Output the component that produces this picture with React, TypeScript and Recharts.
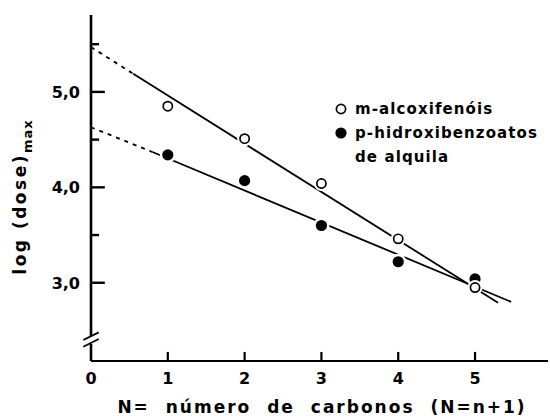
import {ComposedChart, Line, Scatter, XAxis, YAxis, ReferenceLine} from 'recharts';

import type {ReactElement} from 'react';

// N = número de carbonos
const nCarbonos = [1, 2, 3, 4, 5];
// log (dose)max
const alcoxifenois = [4.85, 4.51, 4.04, 3.46, 2.95];
const hidroxibenzoatos = [4.34, 4.07, 3.6, 3.22, 3.04];

// retas ajustadas (trecho tracejado = extrapolação até N=0)
const retaAlcoxiTracejadaN = [0, 0.55];
const retaAlcoxiTracejadaV = [5.47, 5.19];
const retaAlcoxiN = [0.55, 5.3];
const retaAlcoxiV = [5.19, 2.79];
const retaHidroxiTracejadaN = [0, 0.8];
const retaHidroxiTracejadaV = [4.63, 4.37];
const retaHidroxiN = [0.8, 5.47];
const retaHidroxiV = [4.37, 2.8];

const xTicks = [0, 1, 2, 3, 4, 5];
const yTicks = [3, 3.5, 4, 4.5, 5, 5.5];

const X_MIN = 0;
const X_MAX = 5.95;
const Y_MIN = 2.18;
const Y_MAX = 5.806;

const FONT = '"DejaVu Sans", sans-serif';

const toPoints = (ns: number[], vs: number[]) => ns.map((n, i) => ({n, v: vs[i]}));

const dadosAlcoxi = toPoints(nCarbonos, alcoxifenois);
const dadosHidroxi = toPoints(nCarbonos, hidroxibenzoatos);

function OpenDot(props: any): ReactElement {
	const {cx, cy} = props;
	return (
		<g>
			<circle cx={cx} cy={cy} r={7.5} fill={'#fff'} />
			<circle cx={cx} cy={cy} r={4.6} fill={'#fff'} stroke={'#000'} strokeWidth={1.7} />
		</g>
	);
}

function FilledDot(props: any): ReactElement {
	const {cx, cy} = props;
	return (
		<g>
			<circle cx={cx} cy={cy} r={8} fill={'#fff'} />
			<circle cx={cx} cy={cy} r={5.6} fill={'#000'} />
		</g>
	);
}

function XTick(props: any): ReactElement {
	const {x, y, payload} = props;
	return (
		<text x={x} y={y + 23} textAnchor={'middle'} fontFamily={FONT} fontWeight={'bold'} fontSize={16}>
			{payload.value}
		</text>
	);
}

function YTick(props: any): ReactElement | null {
	const {x, y, payload} = props;
	if (!Number.isInteger(payload.value)) {
		return null;
	}
	return (
		<text x={x - 11} y={y + 6} textAnchor={'end'} fontFamily={FONT} fontWeight={'bold'} fontSize={16}>
			{payload.value.toFixed(1).replace('.', ',')}
		</text>
	);
}

function YLabel(): ReactElement {
	return (
		<text x={26} y={197} transform={'rotate(-90, 26, 197)'} textAnchor={'middle'} fontFamily={FONT} fontWeight={'bold'} fontSize={17} letterSpacing={2.5}>
			{'log (dose)'}
			<tspan dy={6} fontSize={13} letterSpacing={1}>{'max'}</tspan>
		</text>
	);
}

function XLabel(): ReactElement {
	return (
		<text x={322} y={413} textAnchor={'middle'} fontFamily={FONT} fontWeight={'bold'} fontSize={17} letterSpacing={2} wordSpacing={8}>
			{'N= número de carbonos (N=n+1)'}
		</text>
	);
}

function Legenda(): ReactElement {
	const txt = {fontFamily: FONT, fontWeight: 'bold' as const, fontSize: 15, letterSpacing: 1.1};
	return (
		<svg width={215} height={70}>
			<circle cx={8} cy={13} r={4.6} fill={'#fff'} stroke={'#000'} strokeWidth={1.7} />
			<text x={22} y={18} {...txt}>{'m-alcoxifenóis'}</text>
			<circle cx={8} cy={37} r={5.6} fill={'#000'} />
			<text x={22} y={42} {...txt}>{'p-hidroxibenzoatos'}</text>
			<text x={22} y={66} {...txt}>{'de alquila'}</text>
		</svg>
	);
}

export default function App(): ReactElement {
	return (
		<div style={{position: 'absolute', left: 0, top: 0, width: 550, height: 416, background: '#fff'}}>
			<ComposedChart width={550} height={416} margin={{top: 15, right: 2, bottom: 0, left: 0}}>
				<XAxis
					type={'number'}
					dataKey={'n'}
					domain={[X_MIN, X_MAX]}
					ticks={xTicks}
					interval={0}
					allowDataOverflow
					height={55}
					tickSize={0}
					tickMargin={0}
					tickLine={false}
					tick={<XTick />}
					axisLine={{stroke: '#000', strokeWidth: 2.2}}
					label={<XLabel />}
				/>
				<YAxis
					type={'number'}
					dataKey={'v'}
					domain={[Y_MIN, Y_MAX]}
					ticks={yTicks}
					interval={0}
					allowDataOverflow
					width={91}
					tickSize={0}
					tickMargin={0}
					tickLine={false}
					tick={<YTick />}
					axisLine={false}
					label={<YLabel />}
				/>
				{/* eixo Y com quebra */}
				<ReferenceLine segment={[{x: X_MIN, y: Y_MAX}, {x: X_MIN, y: 2.44}]} stroke={'#000'} strokeWidth={2.6} ifOverflow={'visible'} />
				<ReferenceLine segment={[{x: X_MIN, y: 2.36}, {x: X_MIN, y: Y_MIN}]} stroke={'#000'} strokeWidth={2.6} ifOverflow={'visible'} />
				<ReferenceLine segment={[{x: -0.1, y: 2.4}, {x: 0.1, y: 2.48}]} stroke={'#000'} strokeWidth={1.8} ifOverflow={'visible'} />
				<ReferenceLine segment={[{x: -0.1, y: 2.33}, {x: 0.1, y: 2.41}]} stroke={'#000'} strokeWidth={1.8} ifOverflow={'visible'} />

				{/* traços de escala voltados para dentro */}
				{yTicks.map((t) => (
					<ReferenceLine
						key={`yt${t}`}
						segment={[{x: X_MIN, y: t}, {x: Number.isInteger(t) ? 0.18 : 0.105, y: t}]}
						stroke={'#000'}
						strokeWidth={2.4}
						ifOverflow={'visible'}
					/>
				))}
				{xTicks.filter((t) => t !== 0).map((t) => (
					<ReferenceLine
						key={`xt${t}`}
						segment={[{x: t, y: Y_MIN}, {x: t, y: Y_MIN + 0.095}]}
						stroke={'#000'}
						strokeWidth={2.2}
						ifOverflow={'visible'}
					/>
				))}

				<Line data={toPoints(retaAlcoxiTracejadaN, retaAlcoxiTracejadaV)} dataKey={'v'} stroke={'#000'} strokeWidth={1.8} strokeDasharray={'4 5'} dot={false} isAnimationActive={false} />
				<Line data={toPoints(retaAlcoxiN, retaAlcoxiV)} dataKey={'v'} stroke={'#000'} strokeWidth={1.8} dot={false} isAnimationActive={false} />
				<Line data={toPoints(retaHidroxiTracejadaN, retaHidroxiTracejadaV)} dataKey={'v'} stroke={'#000'} strokeWidth={1.8} strokeDasharray={'4 5'} dot={false} isAnimationActive={false} />
				<Line data={toPoints(retaHidroxiN, retaHidroxiV)} dataKey={'v'} stroke={'#000'} strokeWidth={1.8} dot={false} isAnimationActive={false} />

				<Scatter data={dadosHidroxi} dataKey={'v'} name={'p-hidroxibenzoatos de alquila'} shape={<FilledDot />} isAnimationActive={false} />
				<Scatter data={dadosAlcoxi} dataKey={'v'} name={'m-alcoxifenóis'} shape={<OpenDot />} isAnimationActive={false} />
			</ComposedChart>
			<div style={{position: 'absolute', left: 333, top: 96}}>
				<Legenda />
			</div>
		</div>
	);
}
